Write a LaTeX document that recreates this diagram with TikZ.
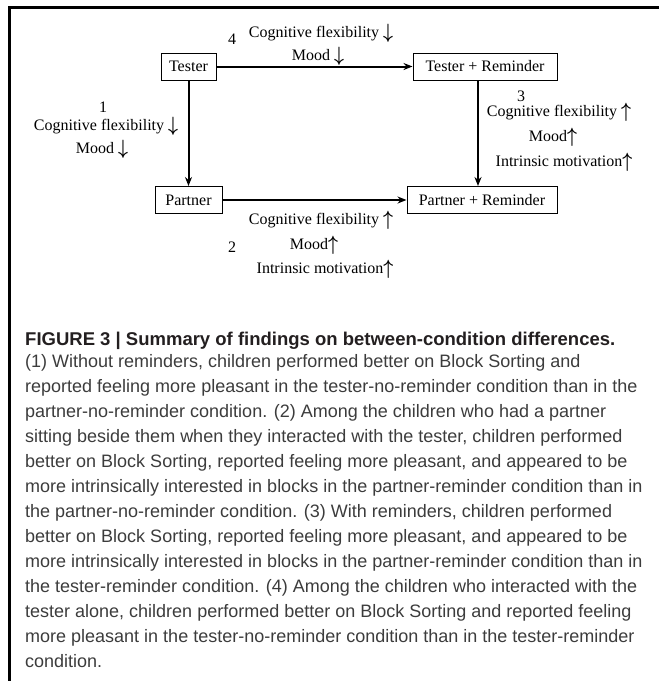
\documentclass[tikz,border=0pt]{standalone}
\usepackage{fontspec}
\setmainfont{Liberation Serif}
\setsansfont{Liberation Sans}
\usepackage{amsmath}
\usepackage{tikz}
\usetikzlibrary{positioning,arrows.meta}

\newcommand{\dnarr}{\raisebox{-1pt}{\scalebox{1}[1.2]{$\boldsymbol{\downarrow}$}}}
\newcommand{\uparr}{\raisebox{-1pt}{\scalebox{1}[1.2]{$\boldsymbol{\uparrow}$}}}

\definecolor{capgray}{HTML}{3C3C3C}
\definecolor{captitle}{HTML}{231F20}

\tikzset{
  cond/.style={draw,line width=1pt,minimum height=27pt,inner sep=0pt,font=\fontsize{16}{18}\selectfont},
  lab/.style={inner sep=0pt,font=\fontsize{16}{18}\selectfont},
  link/.style={line width=2pt,-{Stealth[length=9pt,width=7pt]}},
  captext/.style={anchor=base west,inner sep=0pt,text=capgray,font=\sffamily\fontsize{18}{20}\selectfont},
}

\begin{document}
\begin{tikzpicture}[x=1pt,y=-1pt]
\useasboundingbox (0,0) rectangle (659,681);
\draw [line width = 3pt] (659,7) -- (9,7) -- (9,681);

\node[cond,minimum width=55pt]  (tester)  at (188.5,66.5) {Tester};
\node[cond,minimum width=144pt] (testrem) at (485,66.5)   {Tester + Reminder};
\node[cond,minimum width=67pt]  (partner) at (188.5,200)  {Partner};
\node[cond,minimum width=150pt] (partrem) at (482,200)    {Partner + Reminder};

\draw [link] (tester) -- (testrem);
\draw [link] (tester) -- (partner);
\draw [link] ([xshift=-7pt]testrem.south) -- ([xshift=-4pt]partrem.north);
\draw [link] (partner) -- (partrem);

% 4
\node[lab] (num4)  at (232,39) {4};
\node[lab] (cf4)   at (321,33) {Cognitive flexibility \dnarr};
\node[lab] (mood4) at (318,56) {Mood \dnarr};
% 1
\node[lab] (num1)  at (103,107) {1};
\node[lab] (cf1)   at (106,126) {Cognitive flexibility \dnarr};
\node[lab] (mood1) at (102,149) {Mood \dnarr};
% 3
\node[lab] (num3)  at (521,96)  {3};
\node[lab] (cf3)   at (559,112) {Cognitive flexibility \uparr};
\node[lab] (mood3) at (553,137) {Mood\uparr};
\node[lab] (im3)   at (564,162) {Intrinsic motivation\uparr};
% 2
\node[lab] (cf2)   at (321,220) {Cognitive flexibility \uparr};
\node[lab] (num2)  at (232,247) {2};
\node[lab] (mood2) at (314,245) {Mood\uparr};
\node[lab] (im2)   at (325,269) {Intrinsic motivation\uparr};

\node[captext,text=captitle,font=\sffamily\bfseries\fontsize{18.5}{20}\selectfont] (title) at (25,345)
  {FIGURE 3 | Summary of findings on between-condition differences.};
\foreach \t [count=\i] in {
  {(1) Without reminders, children performed better on Block Sorting and},
  {reported feeling more pleasant in the tester-no-reminder condition than in the},
  {partner-no-reminder condition. (2) Among the children who had a partner},
  {sitting beside them when they interacted with the tester, children performed},
  {better on Block Sorting, reported feeling more pleasant, and appeared to be},
  {more intrinsically interested in blocks in the partner-reminder condition than in},
  {the partner-no-reminder condition. (3) With reminders, children performed},
  {better on Block Sorting, reported feeling more pleasant, and appeared to be},
  {more intrinsically interested in blocks in the partner-reminder condition than in},
  {the tester-reminder condition. (4) Among the children who interacted with the},
  {tester alone, children performed better on Block Sorting and reported feeling},
  {more pleasant in the tester-no-reminder condition than in the tester-reminder},
  {condition.}}
  \node[captext] (cap\i) at (25,{367+25*(\i-1)}) {\t};
\end{tikzpicture}
\end{document}
